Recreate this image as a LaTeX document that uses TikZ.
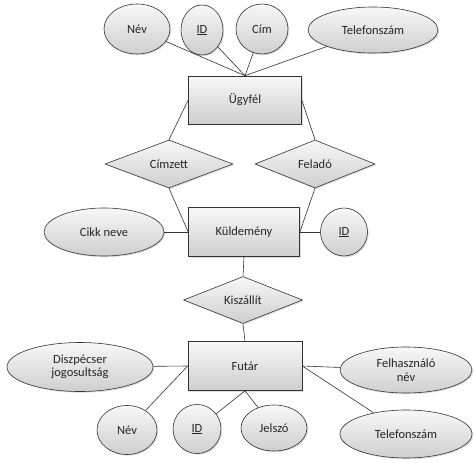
\documentclass[tikz,border=0pt]{standalone}
\usepackage{fontspec}
\setmainfont{Carlito}
\usetikzlibrary{shapes.geometric,shadows}
\begin{document}
\begin{tikzpicture}[x=1pt,y=-1pt,
  base/.style={draw=black!80, line width=0.6pt, top color=gray!6, bottom color=gray!38,
     text=black!85, font=\fontsize{12.5}{13.5}\selectfont, inner sep=0pt,
     drop shadow={shadow xshift=1.2pt, shadow yshift=-1.2pt, opacity=0.25}},
  attr/.style={base, ellipse, align=center},
  ent/.style={base, rectangle},
  rel/.style={base, diamond, aspect=2.6},
  conn/.style={draw=black!80, line width=0.6pt}]
\useasboundingbox (0,0) rectangle (474,463);
\fill[white] (0,0) rectangle (474,463);
% attributes of Ugyfel
\node[attr, minimum width=66, minimum height=50] (nev1) at (137,29) {Név};
\node[attr, minimum width=42, minimum height=50] (id1) at (202,30) {\underline{ID}};
\node[attr, minimum width=52, minimum height=50] (cim) at (262,29) {Cím};
\node[attr, minimum width=130, minimum height=46] (tel1) at (373,30) {Telefonszám};
% entities
\node[ent, minimum width=113, minimum height=48] (ugyfel) at (245,100) {Ügyfél};
\node[ent, minimum width=111, minimum height=49] (kuld) at (244,232) {Küldemény};
\node[ent, minimum width=114, minimum height=49] (futar) at (245,366) {Futár};
% relations
\node[rel, minimum width=128, minimum height=48] (cimzett) at (169,164) {Címzett};
\node[rel, minimum width=120, minimum height=48] (felado) at (315,164) {Feladó};
\node[rel, minimum width=119, minimum height=47] (kisz) at (243,300) {Kiszállít};
% attributes of Kuldemeny
\node[attr, minimum width=120, minimum height=48] (cikk) at (104,232) {Cikk neve};
\node[attr, minimum width=47, minimum height=48] (id2) at (344,232) {\underline{ID}};
% attributes of Futar
\node[attr, minimum width=146, minimum height=49] (disz) at (80,367) {Diszpécser\\jogosultság};
\node[attr, minimum width=132, minimum height=46] (felh) at (406,370) {Felhasználó\\név};
\node[attr, minimum width=60, minimum height=49] (nev3) at (127,430) {Név};
\node[attr, minimum width=48, minimum height=49] (id3) at (197,429) {\underline{ID}};
\node[attr, minimum width=66, minimum height=46] (jel) at (274,428) {Jelszó};
\node[attr, minimum width=132, minimum height=48] (tel3) at (406,434) {Telefonszám};
% connectors
\draw[conn] (nev1) -- (ugyfel.north);
\draw[conn] (id1) -- (ugyfel.north);
\draw[conn] (cim) -- (ugyfel.north);
\draw[conn] (tel1) -- (ugyfel.north);
\draw[conn] (ugyfel.west) -- (cimzett.north);
\draw[conn] (ugyfel.east) -- (felado.north);
\draw[conn] (cimzett.south) -- (kuld.west);
\draw[conn] (felado.south) -- (kuld.east);
\draw[conn] (cikk) -- (kuld.west);
\draw[conn] (kuld.east) -- (id2);
\draw[conn] (kuld.south) -- (kisz.north);
\draw[conn] (kisz.south) -- (futar.north);
\draw[conn] (disz) -- (futar.west);
\draw[conn] (nev3) -- (futar.west);
\draw[conn] (id3) -- (futar.south);
\draw[conn] (jel) -- (futar.south);
\draw[conn] (futar.east) -- (felh);
\draw[conn] (futar.east) -- (tel3);
\end{tikzpicture}
\end{document}
